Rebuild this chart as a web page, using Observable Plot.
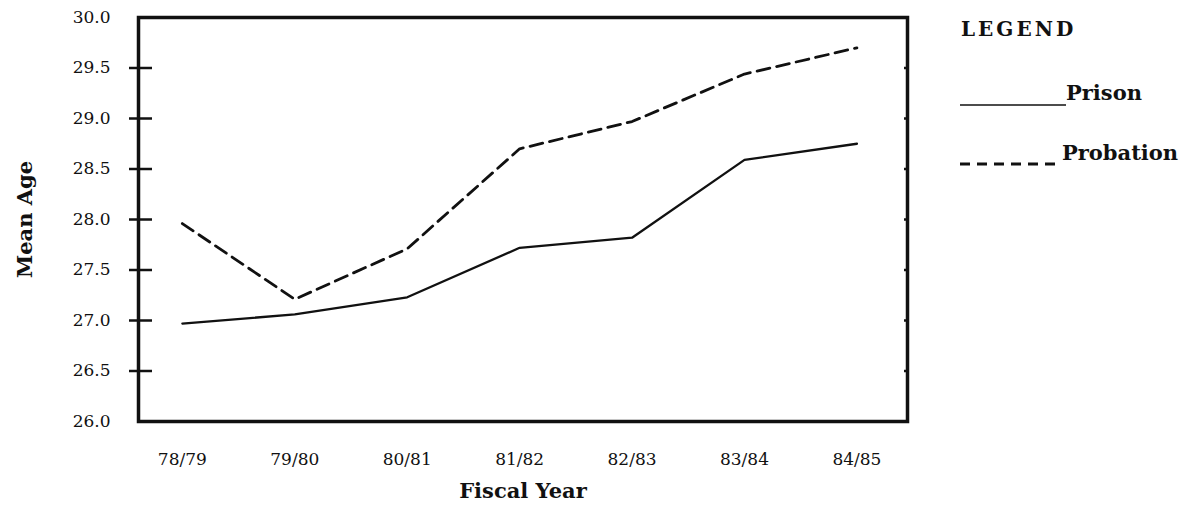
<!DOCTYPE html>
<html>
<head>
<meta charset="utf-8">
<script src="https://cdn.jsdelivr.net/npm/d3@7"></script>
<script src="https://cdn.jsdelivr.net/npm/@observablehq/plot@0.6"></script>
<style>
  html, body { margin: 0; padding: 0; background: #fff; }
  #wrap { position: relative; width: 1194px; height: 510px; font-family: "DejaVu Serif", serif; }
  #legend { position: absolute; left: 0; top: 0; width: 1194px; height: 510px; pointer-events: none; }
  .lg { position: absolute; color: #111; white-space: nowrap; }
</style>
</head>
<body>
<div id="wrap">
  <div id="chart"></div>
  <div id="legend">
    <div class="lg" style="left:961px; top:17px; font-size:20px; font-weight:bold; letter-spacing:3px;">LEGEND</div>
    <svg class="lg" style="left:958px; top:96px;" width="110" height="16"><line x1="2" x2="108" y1="9" y2="9" stroke="#111" stroke-width="1.6"/></svg>
    <div class="lg" style="left:1066px; top:80px; font-size:21px; font-weight:bold;">Prison</div>
    <svg class="lg" style="left:958px; top:156px;" width="104" height="16"><line x1="2" x2="102" y1="8" y2="8" stroke="#111" stroke-width="3" stroke-dasharray="10,7"/></svg>
    <div class="lg" style="left:1062px; top:140px; font-size:21px; font-weight:bold;">Probation</div>
  </div>
</div>
<script>
const years = ["78/79", "79/80", "80/81", "81/82", "82/83", "83/84", "84/85"];
const prison = [26.97, 27.06, 27.23, 27.72, 27.82, 28.59, 28.75];
const probation = [27.96, 27.21, 27.71, 28.70, 28.97, 29.44, 29.70];
const yLabelTicks = [26.0, 26.5, 27.0, 27.5, 28.0, 28.5, 29.0, 29.5, 30.0];
const yMarkTicks = [26.5, 27.0, 27.5, 28.0, 28.5, 29.0, 29.5];

const rows = [];
years.forEach((y, i) => {
  rows.push({i, year: y, series: "Prison", value: prison[i]});
});
years.forEach((y, i) => {
  rows.push({i, year: y, series: "Probation", value: probation[i]});
});

const chart = Plot.plot({
  width: 1194,
  height: 510,
  marginLeft: 138,
  marginRight: 287,
  marginTop: 17,
  marginBottom: 89,
  style: {fontFamily: "DejaVu Serif, serif", fontSize: "17px", color: "#111", background: "#fff"},
  x: {type: "linear", domain: [-0.39, 6.45]},
  y: {domain: [26, 30]},
  marks: [
    Plot.axisX(d3.range(years.length), {tickSize: 0, tickPadding: 31, tickFormat: i => years[i], label: null, fontSize: 17}),
    Plot.axisY(yLabelTicks, {tickSize: 0, tickPadding: 28, tickFormat: d => d.toFixed(1), label: null, fontSize: 17}),
    Plot.axisY(yMarkTicks, {tickSize: 23, dx: 14, tickFormat: () => "", label: null, strokeWidth: 2.5, strokeOpacity: 1}),
    Plot.axisY(yMarkTicks, {anchor: "right", tickSize: 4, dx: -4, tickFormat: () => "", label: null, strokeWidth: 2.5, strokeOpacity: 1}),
    Plot.line(rows.filter(d => d.series === "Prison"), {x: "i", y: "value", stroke: "#111", strokeWidth: 2.3}),
    Plot.line(rows.filter(d => d.series === "Probation"), {x: "i", y: "value", stroke: "#111", strokeWidth: 2.8, strokeDasharray: "13,7"}),
    Plot.frame({stroke: "#111", strokeWidth: 3.5}),
    Plot.text(["Fiscal Year"], {frameAnchor: "bottom", dy: 76, fontSize: 21, fontWeight: "bold", fill: "#111"}),
    Plot.text(["Mean Age"], {frameAnchor: "left", textAnchor: "middle", dx: -113, rotate: -90, fontSize: 21, fontWeight: "bold", fill: "#111"})
  ]
});
document.getElementById("chart").appendChild(chart);
</script>
</body>
</html>
